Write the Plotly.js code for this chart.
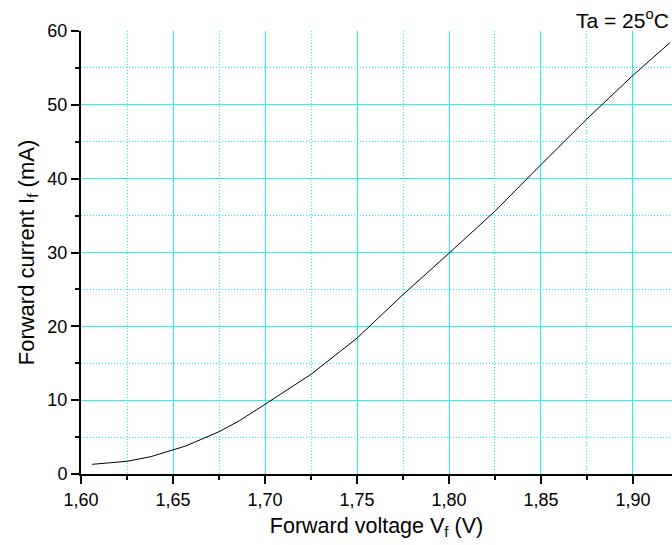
<!DOCTYPE html>
<html>
<head>
<meta charset="utf-8">
<script src="https://cdn.plot.ly/plotly-3.0.1.min.js"></script>
<style>html,body{margin:0;padding:0;background:#fff;}#chart{width:672px;height:545px;}</style>
</head>
<body>
<div id="chart"></div>
<script>
const voltage = [1.606, 1.625, 1.638, 1.650, 1.657, 1.675, 1.686, 1.700, 1.725, 1.750, 1.775, 1.800, 1.825, 1.850, 1.875, 1.900, 1.920];
const current = [1.31, 1.72, 2.35, 3.25, 3.8, 5.73, 7.2, 9.44, 13.5, 18.4, 24.3, 29.9, 35.6, 41.9, 48.1, 54.0, 58.4];
const xTitle = 'Forward voltage V<sub>f</sub> (V)';
const yTitle = 'Forward current I<sub>f</sub> (mA)';
const note = 'Ta = 25<sup>o</sup>C';

const fam = 'Liberation Sans, Arial, sans-serif';
const grid = '#22f4f4';
const minorGrid = '#00ffff';
const xRange = [1.60, 1.9212];
const yRange = [0, 60];

const curve = {
  x: voltage, y: current, type: 'scatter', mode: 'lines',
  line: {color: '#000', width: 1}, hoverinfo: 'skip'
};
const curveMinor = Object.assign({}, curve, {xaxis: 'x2', yaxis: 'y2', line: {color: 'rgba(0,0,0,0)', width: 1}});

const tickFont = {size: 18, family: fam, color: '#000'};

const layout = {
  width: 672, height: 545,
  margin: {l: 81, r: 0, t: 31, b: 71},
  paper_bgcolor: '#fff', plot_bgcolor: '#fff',
  separators: ',.',
  showlegend: false,
  font: {family: fam, color: '#000'},
  xaxis: {
    range: xRange, tick0: 1.6, dtick: 0.05, tickformat: '.2f',
    showline: true, linecolor: '#000', linewidth: 2,
    ticks: 'outside', ticklen: 8, tickwidth: 2, tickcolor: '#000',
    showgrid: true, gridcolor: grid, gridwidth: 1, zeroline: false,
    tickfont: tickFont,
    title: {text: xTitle, font: {size: 21.5, family: fam, color: '#000'}, standoff: 9}
  },
  yaxis: {
    range: yRange, tick0: 0, dtick: 10,
    showline: true, linecolor: '#000', linewidth: 2,
    ticks: 'outside', ticklen: 8, tickwidth: 2, tickcolor: '#000',
    showgrid: true, gridcolor: grid, gridwidth: 1, zeroline: false,
    tickfont: tickFont,
    title: {text: yTitle, font: {size: 22, family: fam, color: '#000'}, standoff: 7}
  },
  xaxis2: {
    overlaying: 'x', anchor: 'y2', range: xRange, tick0: 1.625, dtick: 0.05,
    showticklabels: false, showline: false, zeroline: false,
    ticks: 'outside', ticklen: 5, tickwidth: 2, tickcolor: '#000',
    showgrid: true, gridcolor: minorGrid, griddash: '1px,2px', gridwidth: 1
  },
  yaxis2: {
    overlaying: 'y', anchor: 'x2', range: yRange, tick0: 5, dtick: 10,
    showticklabels: false, showline: false, zeroline: false,
    ticks: 'outside', ticklen: 5, tickwidth: 2, tickcolor: '#000',
    showgrid: true, gridcolor: minorGrid, griddash: '1px,2px', gridwidth: 1
  },
  annotations: [{
    text: note, xref: 'paper', yref: 'paper', x: 1, y: 1.027,
    xanchor: 'right', yanchor: 'middle', xshift: -1, showarrow: false,
    font: {size: 21, family: fam, color: '#000'}
  }]
};
Plotly.newPlot('chart', [curveMinor, curve], layout, {staticPlot: true, displayModeBar: false});
</script>
</body>
</html>
